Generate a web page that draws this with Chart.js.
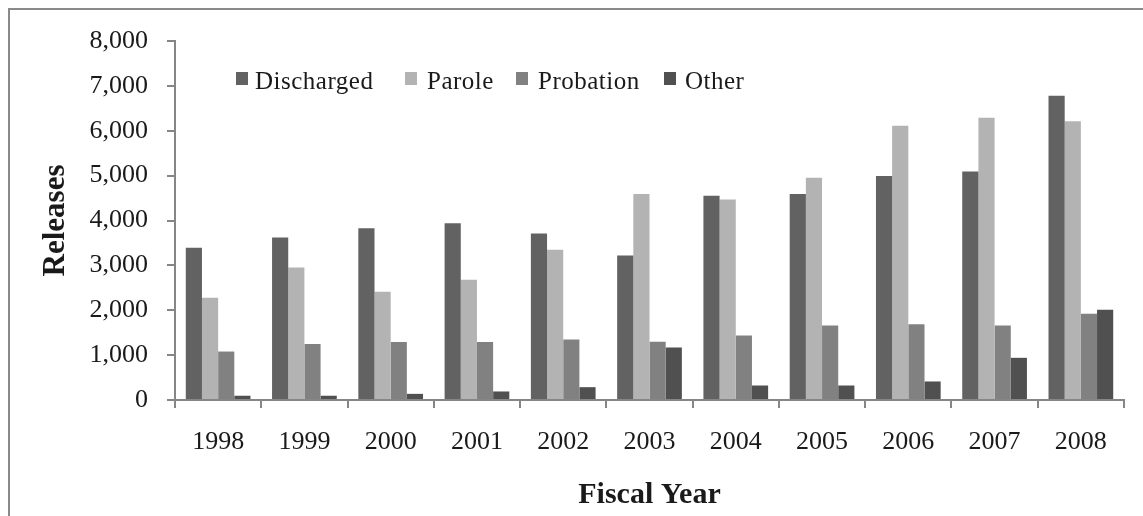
<!DOCTYPE html>
<html><head><meta charset="utf-8">
<script src="https://cdn.jsdelivr.net/npm/chart.js@4"></script>
<style>
html,body{margin:0;padding:0;background:#fff;}
#wrap{position:relative;width:1143px;height:516px;overflow:hidden;background:#fff;}
#frame{position:absolute;left:8px;top:8px;width:1300px;height:700px;border-top:2px solid #8a8a8a;border-left:2px solid #8a8a8a;pointer-events:none;}
#cv{position:absolute;left:0;top:0;}
.lgbox{position:absolute;top:72px;width:12px;height:13px;}
.lgtxt{position:absolute;top:67px;font-family:'Liberation Serif',serif;font-size:25px;line-height:28px;color:#1a1a1a;white-space:nowrap;letter-spacing:0.5px;}
</style>
</head><body>
<div id="wrap">
  <canvas id="cv" width="1143" height="516"></canvas>
  <div id="frame"></div>
  <div id="legend"></div>
</div>
<script>
const categories = ['1998','1999','2000','2001','2002','2003','2004','2005','2006','2007','2008'];
const discharged = [3390, 3620, 3830, 3940, 3710, 3220, 4550, 4590, 4990, 5090, 6780];
const parole     = [2280, 2950, 2410, 2680, 3350, 4590, 4470, 4950, 6110, 6290, 6210];
const probation  = [1080, 1250, 1290, 1290, 1350, 1300, 1440, 1660, 1690, 1660, 1920];
const other      = [  95,   95,  137,  190,  286, 1170,  323,  323,  413,  940, 2010];
const seriesNames = ['Discharged', 'Parole', 'Probation', 'Other'];
const seriesColors = ['#626262', '#b3b3b3', '#818181', '#505050'];
const yTicks = [0, 1000, 2000, 3000, 4000, 5000, 6000, 7000, 8000];

const seriesData = [discharged, parole, probation, other];
const axisColor = '#868686';

Chart.defaults.font.family = "'Liberation Serif', serif";
Chart.defaults.color = '#1a1a1a';

new Chart(document.getElementById('cv'), {
  type: 'bar',
  data: {
    labels: categories,
    datasets: seriesNames.map((n, i) => ({
      label: n,
      data: seriesData[i],
      backgroundColor: seriesColors[i],
      borderWidth: 0,
      barPercentage: 1.0,
      categoryPercentage: 0.75
    }))
  },
  options: {
    responsive: false,
    animation: false,
    devicePixelRatio: 1,
    layout: { padding: { left: 0, top: 41, right: 19, bottom: 0 } },
    plugins: { legend: { display: false }, tooltip: { enabled: false } },
    scales: {
      x: {
        offset: true,
        grid: { display: true, offset: true, drawOnChartArea: false, drawTicks: true, tickLength: 8, color: axisColor, lineWidth: 2 },
        border: { display: true, color: axisColor, width: 2 },
        ticks: { font: { size: 26 }, padding: 19, maxRotation: 0, color: '#1a1a1a' },
        title: { display: true, text: 'Fiscal Year', font: { size: 30, weight: 'bold' }, color: '#1a1a1a', padding: { top: 0, bottom: 3 } },
        afterFit: s => { s.height = 116; }
      },
      y: {
        min: 0, max: 8000,
        afterBuildTicks: s => { s.ticks = yTicks.map(v => ({ value: v })); },
        grid: { display: true, drawOnChartArea: false, drawTicks: true, tickLength: 8, color: axisColor, lineWidth: 2 },
        border: { display: true, color: axisColor, width: 2 },
        ticks: { font: { size: 26 }, padding: 19, color: '#1a1a1a', callback: v => Number(v).toLocaleString('en-US') },
        title: { display: true, text: 'Releases', font: { size: 31, weight: 'bold' }, color: '#1a1a1a', padding: { top: 37, bottom: 0 } },
        afterFit: s => { s.width = 175; }
      }
    }
  }
});

// legend (HTML)
const legendBoxX = [236, 405, 516, 664];
const legendTextX = [255, 427, 538, 685];
const lg = document.getElementById('legend');
seriesNames.forEach((n, i) => {
  const b = document.createElement('div');
  b.className = 'lgbox';
  b.style.left = legendBoxX[i] + 'px';
  b.style.background = seriesColors[i];
  lg.appendChild(b);
  const t = document.createElement('div');
  t.className = 'lgtxt';
  t.style.left = legendTextX[i] + 'px';
  t.textContent = n;
  lg.appendChild(t);
});
</script>
</body></html>
